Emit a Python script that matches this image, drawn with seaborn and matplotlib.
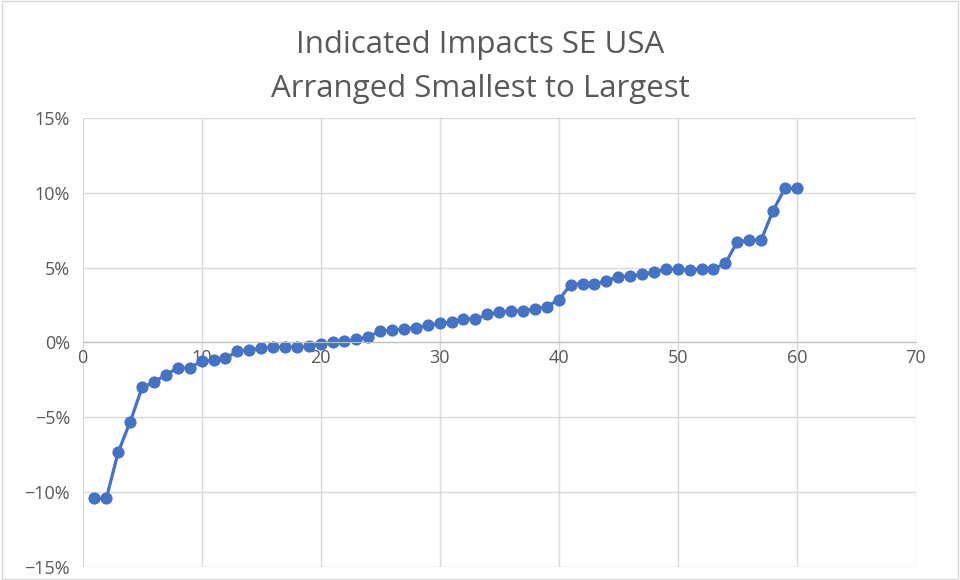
import numpy as np
import pandas as pd
import seaborn as sns

from matplotlib import pyplot as plt
from matplotlib.ticker import PercentFormatter

# Werte (in Prozent), sortiert
rank = list(range(1, 61))
impact = [-10.4, -10.4, -7.3, -5.3, -3.0, -2.65, -2.15, -1.7, -1.7, -1.25,
          -1.2, -1.05, -0.6, -0.5, -0.4, -0.3, -0.3, -0.3, -0.25, -0.12,
          0.0, 0.08, 0.2, 0.38, 0.76, 0.83, 0.9, 1.0, 1.14, 1.27,
          1.36, 1.58, 1.55, 1.87, 2.03, 2.1, 2.1, 2.25, 2.4, 2.85,
          3.85, 3.93, 3.92, 4.1, 4.4, 4.43, 4.55, 4.7, 4.88, 4.88,
          4.85, 4.9, 4.9, 5.29, 6.71, 6.83, 6.83, 8.79, 10.29, 10.29]

df = pd.DataFrame({'rank': rank, 'impact': impact})

sns.set_style('white')
plt.rcParams['font.family'] = ['Open Sans', 'DejaVu Sans']

grey = '#595959'
blue = '#4472C4'

fig = plt.figure(figsize=(9.6, 5.8), dpi=100)
ax = fig.add_axes([0.086, 0.022, 0.868, 0.775])

sns.lineplot(data=df, x='rank', y='impact', ax=ax, color=blue,
             linewidth=2.3, marker='o', markersize=8,
             markeredgecolor=blue, markerfacecolor=blue)

ax.set_xlim(0, 70)
ax.set_ylim(-15, 15)
ax.set_xticks(range(0, 71, 10))
ax.set_yticks(range(-15, 16, 5))
ax.yaxis.set_major_formatter(PercentFormatter(decimals=0))
ax.set_xlabel('')
ax.set_ylabel('')

ax.grid(True, color='#d9d9d9', linewidth=1)
for s in ['top', 'right', 'left']:
    ax.spines[s].set_visible(False)
ax.spines['bottom'].set_position(('data', 0))
ax.spines['bottom'].set_color('#bfbfbf')
ax.tick_params(axis='both', length=0, labelsize=13, colors=grey)
ax.tick_params(axis='x', pad=5)
ax.tick_params(axis='y', pad=9)
ax.set_axisbelow(True)

fig.suptitle('Indicated Impacts SE USA\nArranged Smallest to Largest',
             y=0.948, fontsize=22.5, color=grey, linespacing=1.6)

# Rahmen um die ganze Grafik
fig.patches.append(plt.Rectangle((0.002, 0.002), 0.996, 0.996,
                                 transform=fig.transFigure, fill=False,
                                 edgecolor='#d9d9d9', linewidth=1))

fig.savefig('out.png', dpi=100)
